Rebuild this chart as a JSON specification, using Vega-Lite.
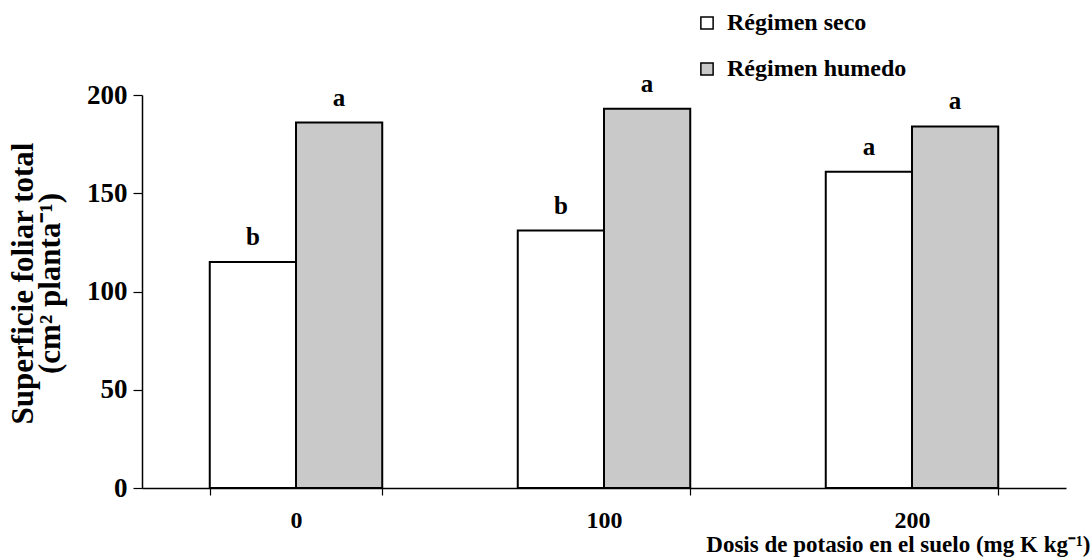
{
  "$schema": "https://vega.github.io/schema/vega-lite/v6.json",
  "width": 924,
  "height": 393,
  "autosize": {"type": "none"},
  "padding": {"left": 142, "top": 95, "right": 25, "bottom": 71},
  "background": "white",
  "config": {
    "view": {"stroke": null},
    "font": "Liberation Serif",
    "axis": {"labelFont": "Liberation Serif", "titleFont": "Liberation Serif", "labelColor": "black", "titleColor": "black", "domainColor": "black", "tickColor": "black", "labelFontWeight": "bold", "titleFontWeight": "bold", "grid": false, "domainWidth": 1.5, "tickWidth": 1.2},
    "legend": {"labelFont": "Liberation Serif", "labelFontWeight": "bold", "labelColor": "black"}
  },
  "data": {
    "values": [
      {"dosis": "0", "regimen": "Régimen seco", "superficie": 115, "letra": "b"},
      {"dosis": "0", "regimen": "Régimen humedo", "superficie": 186, "letra": "a"},
      {"dosis": "100", "regimen": "Régimen seco", "superficie": 131, "letra": "b"},
      {"dosis": "100", "regimen": "Régimen humedo", "superficie": 193, "letra": "a"},
      {"dosis": "200", "regimen": "Régimen seco", "superficie": 161, "letra": "a"},
      {"dosis": "200", "regimen": "Régimen humedo", "superficie": 184, "letra": "a"}
    ]
  },
  "encoding": {
    "x": {
      "field": "dosis", "type": "nominal", "sort": ["0", "100", "200"],
      "scale": {"paddingInner": 0.44, "paddingOuter": 0.22},
      "axis": {
        "title": "Dosis de potasio en el suelo (mg K kg⁻¹)",
        "labelAngle": 0, "tickBand": "extent", "tickSize": 7, "labelPadding": 13,
        "labelFontSize": 24, "titleFontSize": 23,
        "titleX": 948, "titleY": 56, "titleAlign": "right", "titleBaseline": "middle", "titleAnchor": null
      }
    },
    "xOffset": {"field": "regimen", "type": "nominal", "sort": ["Régimen seco", "Régimen humedo"], "scale": {"paddingInner": 0, "paddingOuter": 0}},
    "y": {
      "field": "superficie", "type": "quantitative",
      "scale": {"domain": [0, 200], "nice": false},
      "axis": {
        "values": [0, 50, 100, 150, 200], "tickSize": 9, "labelPadding": 6, "labelFontSize": 27,
        "title": ["Superficie foliar total", "(cm² planta⁻¹)"],
        "titleFontSize": 31, "titleLineHeight": 27, "titleX": -119, "titleY": 188, "titleAlign": "center", "titleBaseline": "middle", "titleAngle": 270
      }
    }
  },
  "layer": [
    {
      "mark": {"type": "bar", "stroke": "black", "strokeWidth": 2},
      "encoding": {
        "fill": {
          "field": "regimen", "type": "nominal",
          "scale": {"domain": ["Régimen seco", "Régimen humedo"], "range": ["white", "#c9c9c9"]},
          "legend": {
            "title": null, "orient": "none", "legendX": 553, "legendY": -84,
            "symbolType": "square", "symbolSize": 150, "symbolStrokeColor": "black", "symbolStrokeWidth": 1.5,
            "labelFontSize": 24, "labelLimit": 400, "rowPadding": 22, "labelOffset": 8
          }
        }
      }
    },
    {
      "mark": {"type": "text", "baseline": "bottom", "dy": -12, "fontSize": 25, "fontWeight": "bold", "font": "Liberation Serif", "color": "black"},
      "encoding": {"text": {"field": "letra"}}
    }
  ]
}
